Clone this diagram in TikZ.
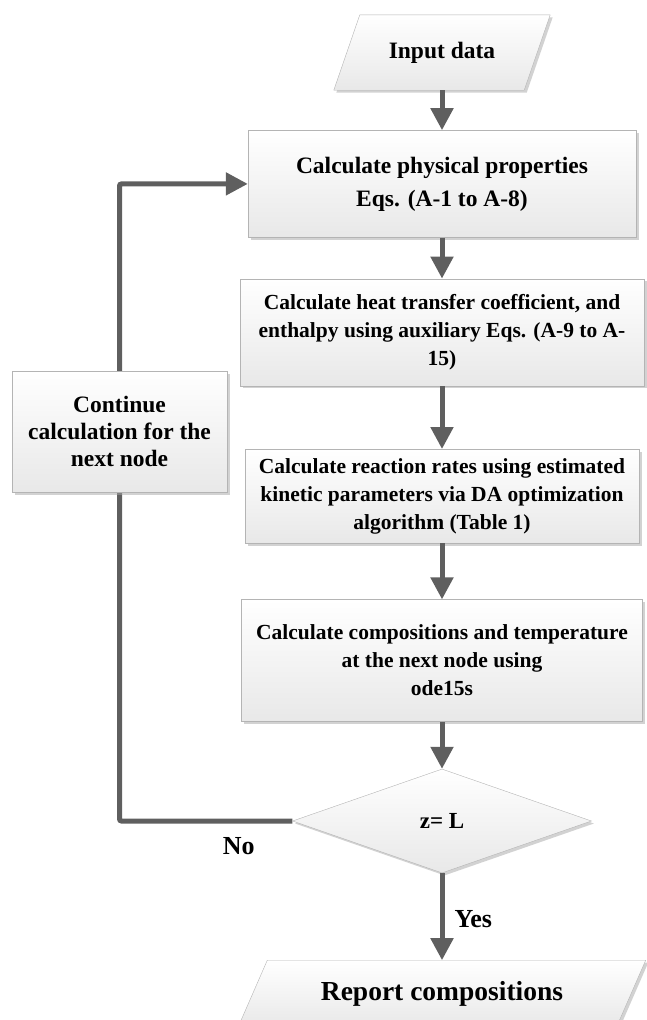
\documentclass[tikz,border=0pt]{standalone}
\usepackage{fontspec}
\setmainfont{Liberation Serif}
\usetikzlibrary{positioning,arrows.meta,shapes.geometric,shadows,backgrounds}
\definecolor{flowgray}{RGB}{95,95,95}
\definecolor{boxedge}{RGB}{180,180,180}

\begin{document}
\begin{tikzpicture}[x=1pt, y=1pt,
  every node/.style={font=\bfseries},
  big/.style={font=\bfseries\fontsize{23.5}{33}\selectfont},
  mid/.style={font=\bfseries\fontsize{21.5}{28}\selectfont},
  shade/.style={draw=boxedge, top color=white, bottom color=black!9,
    drop shadow={shadow xshift=2.5pt, shadow yshift=-2.5pt, fill=black!35, opacity=0.5}},
  proc/.style={shade, align=center, inner sep=0pt},
  iotext/.style={align=center, inner sep=0pt},
  cond/.style={proc, diamond},
  flow/.style={-{Triangle[length=22pt, width=22pt]}, line width=5pt, draw=flowgray},
  lab/.style={font=\bfseries\fontsize{26}{30}\selectfont, inner sep=2pt}]
\useasboundingbox (0,0) rectangle (646,-1020);

\node[iotext, big, minimum width=190pt, minimum height=75pt] (input) at (442,-52.5) {Input data};
\node[proc, big, minimum width=388pt, minimum height=107pt, below=40pt of input] (props)
  {Calculate physical properties\\Eqs. (A-1 to A-8)};
\node[proc, mid, minimum width=404pt, minimum height=107pt, below=41pt of props] (heat)
  {Calculate heat transfer coefficient, and\\enthalpy using auxiliary Eqs. (A-9 to A-\\15)};
\node[proc, mid, minimum width=394pt, minimum height=94pt, below=63pt of heat] (rates)
  {Calculate reaction rates using estimated\\kinetic parameters via DA optimization\\algorithm (Table 1)};
\node[proc, mid, minimum width=401pt, minimum height=122pt, below=56pt of rates] (comp)
  {Calculate compositions and temperature\\at the next node using\\ode15s};
\node[cond, font=\bfseries\fontsize{23}{27}\selectfont, minimum width=299pt, minimum height=104pt,
  below=47pt of comp] (test) {z= L};
\node[iotext, font=\bfseries\fontsize{27.5}{32}\selectfont, minimum width=378pt, minimum height=66pt,
  below=87pt of test] (report) {Report compositions};
\node[proc, font=\bfseries\fontsize{23.5}{27}\selectfont, minimum width=215pt, minimum height=121pt]
  (cont) at (119.5,-431.5) {Continue\\calculation for the\\next node};

% slanted input / output boxes
\begin{scope}[on background layer]
\foreach \n/\s in {input/13pt, report/14.5pt}
  \draw[shade] ([xshift=\s]\n.north west) -- ([xshift=\s]\n.north east)
    -- ([xshift=-\s]\n.south east) -- ([xshift=-\s]\n.south west) -- cycle;
\end{scope}

\draw[flow] (input) -- (props);
\draw[flow] (props) -- (heat);
\draw[flow] (heat) -- (rates);
\draw[flow] (rates) -- (comp);
\draw[flow] (comp) -- (test);
\draw[flow] (test) -- node[lab, pos=0.53, right=8pt] (yes) {Yes} (report);

% loop back to the first step
\begin{scope}[on background layer]
\draw[flow, rounded corners=2pt] (test.west)
  -- node[lab, pos=0.31, below=12pt] (no) {No} (test.west -| cont)
  -- (props.west -| cont) -- (props.west);
\end{scope}
\end{tikzpicture}
\end{document}
